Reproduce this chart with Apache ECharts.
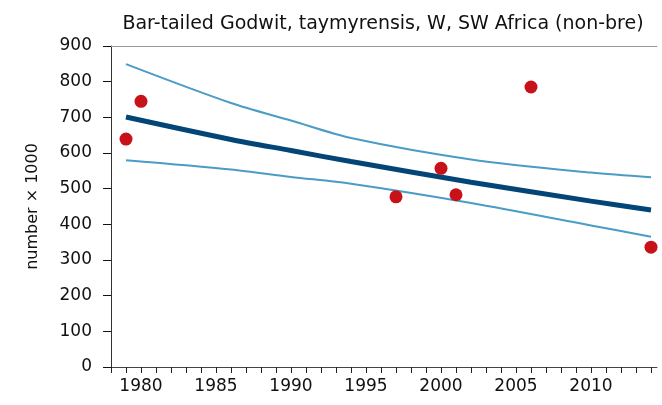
<!DOCTYPE html>
<html>
<head>
<meta charset="utf-8">
<script src="https://cdn.jsdelivr.net/npm/echarts@6/dist/echarts.min.js"></script>
<style>
  html, body { margin: 0; padding: 0; background: #fff; }
  #chart { width: 662px; height: 405px; }
</style>
</head>
<body>
<div id="chart"></div>
<script>
  // counts (x 1000) per survey year
  var obsYears = [1979, 1980, 1997, 2000, 2001, 2006, 2014];
  var obsValues = [639, 745, 477, 557, 483, 785, 336];

  // fitted trend and its confidence band
  var fitYears = [1979, 1986, 1990, 1994, 2002, 2010, 2014];
  var trendValues = [701, 638, 607, 576, 518, 465, 440];
  var upperValues = [849, 740, 691, 642, 582, 545, 532];
  var lowerValues = [580, 554, 533, 514, 460, 397, 365];

  var yTicks = [0, 100, 200, 300, 400, 500, 600, 700, 800, 900];

  function pairs(xs, ys) {
    return xs.map(function (x, i) { return [x, ys[i]]; });
  }

  var font = 'DejaVu Sans';
  var chart = echarts.init(document.getElementById('chart'));
  chart.setOption({
    animation: false,
    title: {
      text: 'Bar-tailed Godwit, taymyrensis, W, SW Africa (non-bre)',
      left: 378,
      top: 10,
      textAlign: 'center',
      textStyle: { fontFamily: font, fontSize: 19, fontWeight: 'normal', color: '#111' }
    },
    grid: { left: 111, right: 5, top: 46, bottom: 38 },
    xAxis: [{
      type: 'value',
      min: 1978,
      max: 2014.4,
      interval: 1,
      splitLine: { show: false },
      axisLine: { lineStyle: { color: '#444' } },
      axisTick: { length: 6, lineStyle: { color: '#222' } },
      axisLabel: {
        margin: 11,
        fontFamily: font,
        fontSize: 17,
        color: '#111',
        showMaxLabel: false,
        formatter: function (v) { return v % 5 === 0 ? String(v) : ''; }
      }
    }, {
      type: 'value',
      position: 'top',
      min: 1978,
      max: 2014.4,
      splitLine: { show: false },
      axisLine: { show: true, lineStyle: { color: '#999' } },
      axisTick: { show: false },
      axisLabel: { show: false }
    }],
    yAxis: {
      type: 'value',
      min: yTicks[0],
      max: yTicks[yTicks.length - 1],
      interval: 100,
      name: 'number \u00d7 1000',
      nameLocation: 'middle',
      nameGap: 70,
      nameTextStyle: { fontFamily: font, fontSize: 16, color: '#111' },
      splitLine: { show: false },
      axisLine: { show: true, lineStyle: { color: '#333' } },
      axisTick: { show: true, length: 8, lineStyle: { color: '#111' } },
      axisLabel: { margin: 19, fontFamily: font, fontSize: 17, color: '#111' }
    },
    series: [{
      type: 'line',
      data: pairs(fitYears, upperValues),
      smooth: 0.3,
      symbol: 'none',
      lineStyle: { color: '#4a9cc6', width: 2 }
    }, {
      type: 'line',
      data: pairs(fitYears, lowerValues),
      smooth: 0.3,
      symbol: 'none',
      lineStyle: { color: '#4a9cc6', width: 2 }
    }, {
      type: 'line',
      data: pairs(fitYears, trendValues),
      smooth: 0.3,
      symbol: 'none',
      lineStyle: { color: '#034577', width: 5 }
    }, {
      type: 'scatter',
      data: pairs(obsYears, obsValues),
      symbolSize: 13,
      itemStyle: { color: '#c8121a', opacity: 1 },
      z: 5
    }]
  });
</script>
</body>
</html>
